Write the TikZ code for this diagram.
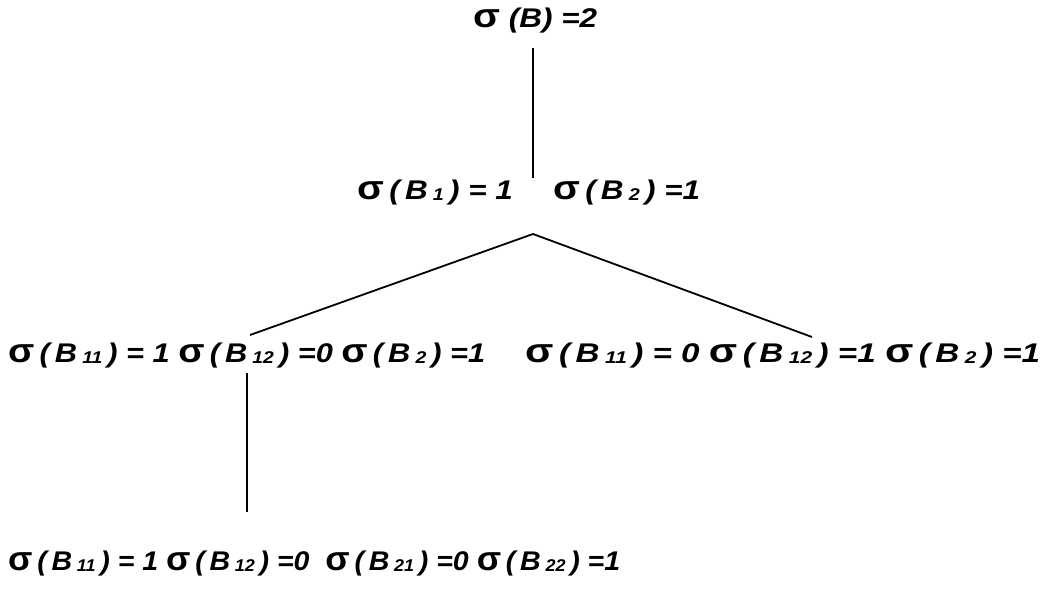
\documentclass[tikz,border=0pt]{standalone}
\usepackage{fontspec}
\setmainfont{Liberation Sans}
\newcommand\sg{{\upshape\bfseries\scalebox{1.25}{σ}}}
\newcommand\sbs[1]{\raisebox{-1pt}{\fontsize{17}{17}\selectfont #1}}
\newcommand\fitw[2]{\resizebox{#1pt}{\height}{#2}}
\begin{document}
\begin{tikzpicture}[x=1pt,y=-1pt,
  lbl/.style={inner sep=0pt, anchor=base west, font=\fontsize{27}{27}\selectfont\bfseries\itshape},
  ln/.style={line width=1.8pt}]
\useasboundingbox (0,0) rectangle (1049,590);
\node[lbl] (r1) at (473,27) {\fitw{124}{\sg\ (B) =2}};
\node[lbl] (r2) at (357,199) {\fitw{343}{\sg\,(\,B\,\sbs{1}\,) = 1 \quad \sg\,(\,B\,\sbs{2}\,) =1}};
\node[lbl] (r3a) at (8,362) {\fitw{477}{\sg\,(\,B\,\sbs{11}\,) = 1 \sg\,(\,B\,\sbs{12}\,) =0 \sg\,(\,B\,\sbs{2}\,) =1}};
\node[lbl] (r3b) at (525,362) {\fitw{515}{\sg\,(\,B\,\sbs{11}\,) = 0 \sg\,(\,B\,\sbs{12}\,) =1 \sg\,(\,B\,\sbs{2}\,) =1}};
\node[lbl] (r4) at (8,570) {\fitw{612}{\sg\,(\,B\,\sbs{11}\,) = 1 \sg\,(\,B\,\sbs{12}\,) =0 \ \sg\,(\,B\,\sbs{21}\,) =0 \sg\,(\,B\,\sbs{22}\,) =1}};
\coordinate (a1) at (533,48);
\coordinate (a2) at (533,178);
\coordinate (b0) at (533,234);
\coordinate (b1) at (250,335);
\coordinate (b2) at (812,337);
\coordinate (c1) at (247,373);
\coordinate (c2) at (247,512);
\draw[ln] (a1) -- (a2);
\draw[ln] (b1) -- (b0) -- (b2);
\draw[ln] (c1) -- (c2);
\end{tikzpicture}
\end{document}
